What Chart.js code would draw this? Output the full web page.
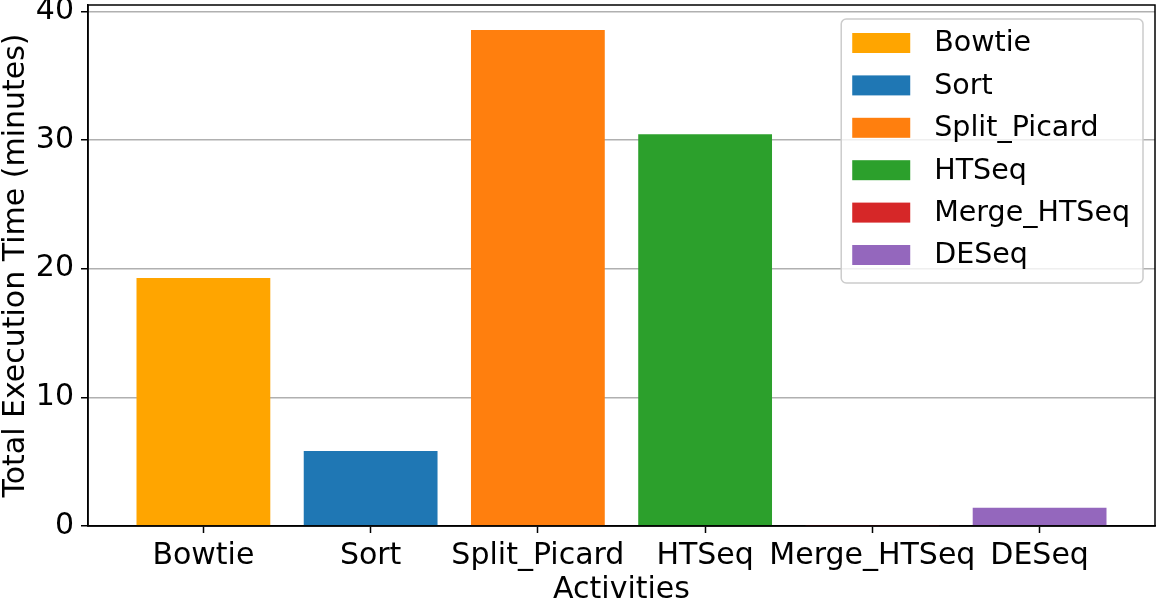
<!DOCTYPE html>
<html lang="en">

<head>
    <meta charset="utf-8">
    <title>Total Execution Time</title>
    <script src="https://cdn.jsdelivr.net/npm/chart.js@4.4.1/dist/chart.umd.min.js"></script>
    <style>
    body { margin: 0; background: #fff; }
    </style>
</head>

<body>
    <canvas id="chart" width="1159" height="601"></canvas>
    <script>
    // values
    var activities = ["Bowtie", "Sort", "Split_Picard", "HTSeq", "Merge_HTSeq", "DESeq"];
    var minutes = [19.27, 5.83, 38.55, 30.44, 0.02, 1.42];
    var barColors = ["#ffa500", "#1f77b4", "#ff7f0e", "#2ca02c", "#d62728", "#9467bd"];
    var yTicks = [0, 10, 20, 30, 40];

    var FONT = '"DejaVu Sans", sans-serif';

    // spines on all four sides + legend box inside the plot, matplotlib style
    var frameAndLegend = {
        id: 'frameAndLegend',
        afterDraw: function(chart) {
            var ctx = chart.ctx, area = chart.chartArea;
            ctx.save();
            ctx.strokeStyle = '#000';
            ctx.lineWidth = 1.5;
            ctx.strokeRect(area.left, area.top, area.right - area.left, area.bottom - area.top);

            var labels = chart.data.labels;
            var colors = chart.data.datasets[0].backgroundColor;
            ctx.font = '28.5px ' + FONT;
            var textW = Math.max.apply(null, labels.map(function(l) { return ctx.measureText(l).width; }));
            var w = 93 + textW + 13, h = 264, rowH = 42.4;
            var left = area.right - 12 - w, top = area.top + 14;

            ctx.beginPath();
            ctx.roundRect(left, top, w, h, 5);
            ctx.fillStyle = 'rgba(255,255,255,0.8)';
            ctx.fill();
            ctx.strokeStyle = '#cccccc';
            ctx.lineWidth = 1.5;
            ctx.stroke();

            ctx.textBaseline = 'middle';
            ctx.textAlign = 'left';
            labels.forEach(function(l, i) {
                var cy = top + 24 + i * rowH;
                ctx.fillStyle = colors[i];
                ctx.fillRect(left + 11, cy - 10, 58, 20);
                ctx.fillStyle = '#000';
                ctx.fillText(l, left + 93, cy + 1);
            });
            ctx.restore();
        }
    };

    new Chart(document.getElementById('chart'), {
        type: 'bar',
        data: {
            labels: activities,
            datasets: [{
                label: 'Total Execution Time',
                data: minutes.map(function(v, i) { return { x: i, y: v }; }),
                backgroundColor: barColors,
                barPercentage: 0.8,
                categoryPercentage: 1.0
            }]
        },
        options: {
            responsive: false,
            animation: false,
            devicePixelRatio: 1,
            layout: { padding: { top: 5, right: 4, left: 0, bottom: 0 } },
            plugins: {
                legend: { display: false },
                tooltip: { enabled: false }
            },
            scales: {
                x: {
                    type: 'linear',
                    min: -0.69,
                    max: 5.69,
                    offset: false,
                    afterBuildTicks: function(scale) {
                        scale.ticks = activities.map(function(_, i) { return { value: i }; });
                    },
                    afterFit: function(scale) {
                        scale.height = 75;
                        scale.paddingLeft = 0;
                        scale.paddingRight = 0;
                    },
                    grid: { offset: false, drawOnChartArea: false, tickLength: 7, tickColor: '#000', tickWidth: 1.5 },
                    border: { color: '#000', width: 1.5 },
                    ticks: {
                        autoSkip: false,
                        maxRotation: 0,
                        padding: 5,
                        color: '#000',
                        font: { family: FONT, size: 30 },
                        callback: function(v) { return activities[v]; }
                    },
                    title: {
                        display: true,
                        text: 'Activities',
                        color: '#000',
                        font: { family: FONT, size: 30, lineHeight: 1 },
                        padding: { top: 0, bottom: -4 }
                    }
                },
                y: {
                    min: 0,
                    max: 40.49,
                    z: 1,
                    afterBuildTicks: function(scale) {
                        scale.ticks = yTicks.map(function(v) { return { value: v }; });
                    },
                    afterFit: function(scale) {
                        scale.width = 88;
                        scale.paddingTop = 0;
                        scale.paddingBottom = 0;
                    },
                    grid: { color: '#b0b0b0', lineWidth: 1.5, tickLength: 7, tickColor: '#000', tickWidth: 1.5 },
                    border: { color: '#000', width: 1.5 },
                    ticks: {
                        padding: 7,
                        color: '#000',
                        font: { family: FONT, size: 30 }
                    },
                    title: {
                        display: true,
                        text: 'Total Execution Time (minutes)',
                        color: '#000',
                        font: { family: FONT, size: 30, lineHeight: 1 },
                        padding: { top: 1, bottom: 0 }
                    }
                }
            }
        },
        plugins: [frameAndLegend]
    });
    </script>
</body>

</html>
